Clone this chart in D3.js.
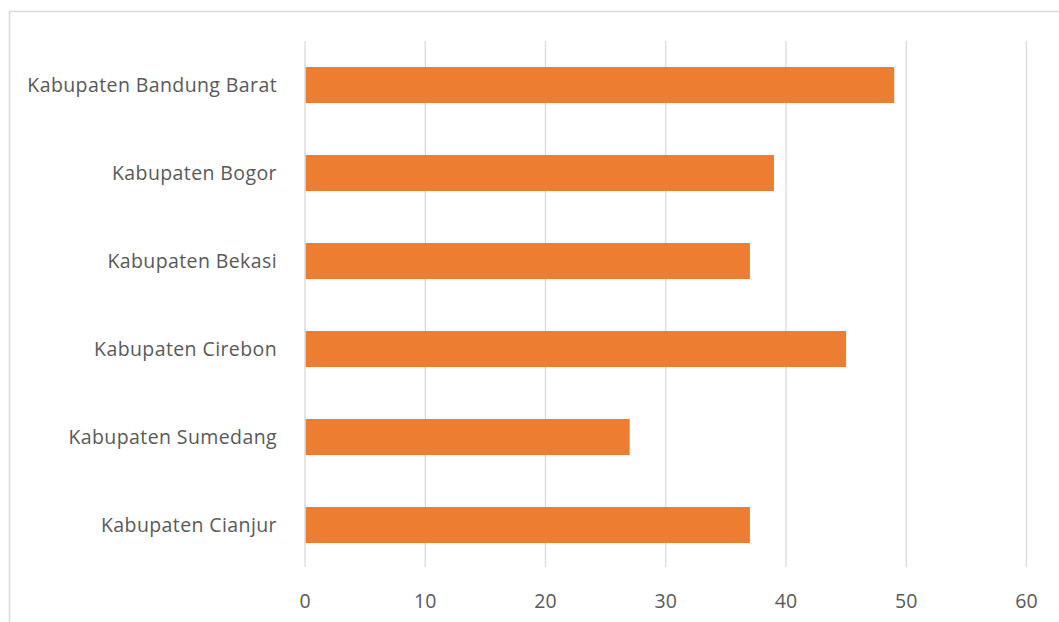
<!DOCTYPE html>
<html>
<head>
<meta charset="utf-8">
<script src="https://cdn.jsdelivr.net/npm/d3@7"></script>
<style>
  html, body { margin: 0; padding: 0; background: #fff; }
  svg { display: block; }
</style>
</head>
<body>
<div id="chart"></div>
<script>
document.addEventListener('DOMContentLoaded', () => {
    // --- Data ---
    const categories = [
        "Kabupaten Bandung Barat",
        "Kabupaten Bogor",
        "Kabupaten Bekasi",
        "Kabupaten Cirebon",
        "Kabupaten Sumedang",
        "Kabupaten Cianjur"
    ];
    const values = [49, 39, 37, 45, 27, 37];
    const xTicks = [0, 10, 20, 30, 40, 50, 60];

    const width = 1059, height = 622;
    const plot = { left: 305, right: 1026.5, top: 41, bottom: 569 };

    const svg = d3.select("#chart").append("svg")
        .attr("width", width)
        .attr("height", height);

    // chart area border (runs off the right/bottom edge like the original)
    svg.append("rect")
        .attr("x", 9.5)
        .attr("y", 11.5)
        .attr("width", width)
        .attr("height", height)
        .attr("fill", "none")
        .attr("stroke", "#d9d9d9")
        .attr("stroke-width", 1.5);

    const x = d3.scaleLinear()
        .domain([0, 60])
        .range([plot.left, plot.right]);

    const y = d3.scaleBand()
        .domain(categories)
        .range([plot.top, plot.bottom])
        .paddingInner(0.59)
        .paddingOuter(0.295);

    // gridlines
    svg.append("g")
        .selectAll("line")
        .data(xTicks)
        .enter().append("line")
        .attr("x1", d => x(d))
        .attr("x2", d => x(d))
        .attr("y1", plot.top)
        .attr("y2", 567)
        .attr("stroke", "#d9d9d9")
        .attr("stroke-width", 1.3);

    // bars
    svg.append("g")
        .selectAll("rect")
        .data(categories)
        .enter().append("rect")
        .attr("x", x(0) + 0.7)
        .attr("y", d => y(d))
        .attr("width", (d, i) => x(values[i]) - x(0) - 0.7)
        .attr("height", y.bandwidth())
        .attr("fill", "#ed7d31");

    const font = "'Open Sans', 'Noto Sans', sans-serif";

    // category labels
    svg.append("g")
        .selectAll("text")
        .data(categories)
        .enter().append("text")
        .attr("x", 277)
        .attr("y", d => y(d) + y.bandwidth() / 2)
        .attr("dy", "0.35em")
        .attr("text-anchor", "end")
        .attr("font-family", font)
        .attr("font-size", 19.5)
        .attr("letter-spacing", 0.4)
        .attr("fill", "#595959")
        .text(d => d);

    // x tick labels
    svg.append("g")
        .selectAll("text")
        .data(xTicks)
        .enter().append("text")
        .attr("x", d => x(d))
        .attr("y", 601)
        .attr("dy", "0.35em")
        .attr("text-anchor", "middle")
        .attr("font-family", font)
        .attr("font-size", 19.5)
        .attr("fill", "#595959")
        .text(d => d);
});
</script>
</body>
</html>
